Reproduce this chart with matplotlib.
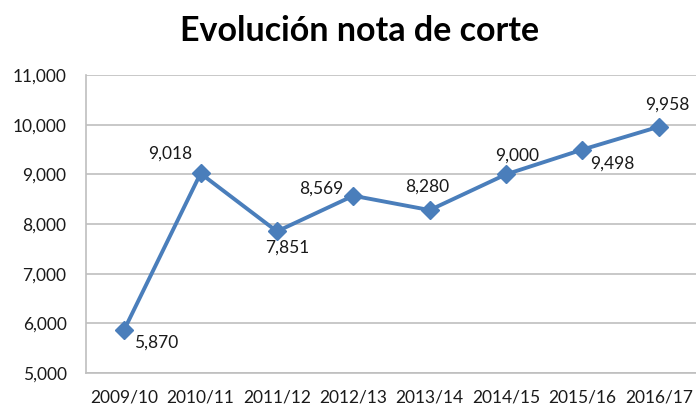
import matplotlib
matplotlib.use("Agg")
import matplotlib.pyplot as plt

categories = ["2009/10", "2010/11", "2011/12", "2012/13", "2013/14", "2014/15", "2015/16", "2016/17"]
values = [5.870, 9.018, 7.851, 8.569, 8.280, 9.000, 9.498, 9.958]
yticks = [5, 6, 7, 8, 9, 10, 11]
title = "Evolución nota de corte"

def fmt(v):
    return f"{v:.3f}".replace(".", ",")

# label offsets in pixels (dx, dy)
offsets = [(32, -13), (-30, 20), (10, -16), (-32, 7), (-3, 23), (11, 19), (30, -14), (9, 22)]

plt.rcParams['font.family'] = ['Lato', 'DejaVu Sans']
fig = plt.figure(figsize=(6.96, 4.07), dpi=100)
ax = fig.add_axes([86/696, 1-373/407, 611/696, 298/407])

x = list(range(len(categories)))
ax.plot(x, values, color="#4A7EBB", lw=2.8, marker="D", markersize=9.5,
        markerfacecolor="#4A7EBB", markeredgecolor="#4A7EBB", zorder=3, clip_on=False)
for xi, v, (dx, dy) in zip(x, values, offsets):
    ax.annotate(fmt(v), (xi, v), xytext=(dx, dy), textcoords="offset pixels",
                ha="center", va="center", fontsize=12.5, color="#1a1a1a")

ax.set_xlim(-0.5, len(categories) - 0.5)
ax.set_ylim(min(yticks), max(yticks))
ax.set_yticks(yticks)
ax.set_yticklabels([fmt(t) for t in yticks])
ax.set_xticks(x)
ax.set_xticklabels(categories)
ax.tick_params(axis="both", length=0, labelsize=12.5, labelcolor="#1a1a1a")
ax.tick_params(axis="y", pad=14)
ax.tick_params(axis="x", pad=12)
ax.grid(axis="y", color="#BFBFBF", lw=1.2)
ax.set_axisbelow(True)
for s in ["top", "right"]:
    ax.spines[s].set_visible(False)
for s in ["left", "bottom"]:
    ax.spines[s].set_color("#BFBFBF")
    ax.spines[s].set_linewidth(1.2)

fig.text(360/696, 1-31/407, title, ha="center", va="center", fontsize=24.5, fontweight="bold", color="#000000")
fig.savefig("out.png", dpi=100)
